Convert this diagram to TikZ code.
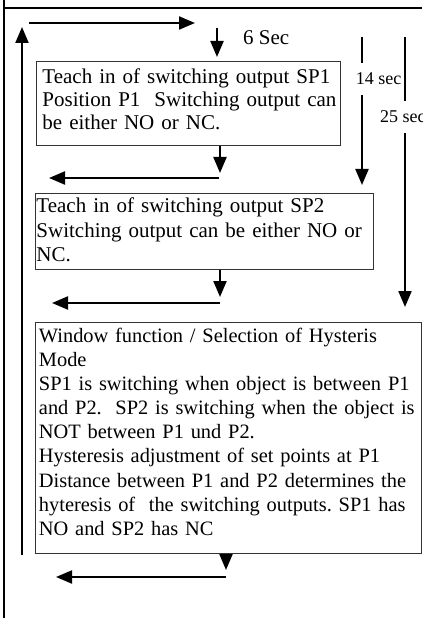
\documentclass[tikz,border=0pt]{standalone}
\usepackage{fontspec}
\setmainfont{Liberation Serif}
\usetikzlibrary{arrows.meta}
\newcommand\myfontA{\fontsize{21bp}{23bp}\selectfont\frenchspacing}
\newcommand\myfontB{\fontsize{21bp}{24.5bp}\selectfont\frenchspacing}
\newcommand\myfontC{\fontsize{20.4bp}{24.1bp}\selectfont\frenchspacing}
\newcommand\myfontS{\fontsize{18bp}{20bp}\selectfont}
\begin{document}
\begin{tikzpicture}[x=1bp,y=-1bp,
  arr/.style={line width=2.2bp,-{Triangle[length=16bp,width=13bp]}},
  frame/.style={line width=1.8bp},
  box/.style={draw=black!80,line width=0.9bp,anchor=north west,inner ysep=0pt,align=left},
  lab/.style={fill=white,inner xsep=1bp,inner ysep=0pt,minimum height=32bp,font=\myfontS}]
\useasboundingbox (0,0) rectangle (422,618);
\fill[white] (0,0) rectangle (422,618);
\clip (0,0) rectangle (422,618);
% frame
\coordinate (fl0) at (4,0);
\coordinate (fl1) at (4,618);
\coordinate (ft0) at (4,8);
\coordinate (ft1) at (422,8);
\draw[frame] (fl0) -- (fl1);
\draw[frame] (ft0) -- (ft1);
% boxes
\node[box,font=\myfontA,inner xsep=6bp,text width=292bp,text height=22bp,text depth=62bp] (b1) at (36,61)
 {\mbox{Teach in of switching output SP1}\\\mbox{Position P1~ Switching output can}\\\mbox{be either NO or NC.}};
\node[box,font=\myfontB,inner xsep=1bp,text width=336bp,text height=19.5bp,text depth=56.5bp] (b2) at (35,193)
 {\mbox{Teach in of switching output SP2}\\\mbox{Switching output can be either NO or}\\\mbox{NC.}};
\node[box,font=\myfontC,inner xsep=3.5bp,text width=379bp,text height=20bp,text depth=211bp] (b3) at (35,322)
 {\mbox{Window function / Selection of Hysteris}\\\mbox{Mode}\\\mbox{SP1 is switching when object is between P1}\\\mbox{and P2.~ SP2 is switching when the object is}\\\mbox{NOT between P1 und P2.}\\\mbox{Hysteresis adjustment of set points at P1}\\\mbox{Distance between P1 and P2 determines the}\\\mbox{hyteresis of~ the switching outputs. SP1 has}\\\mbox{NO and SP2 has NC}};
% top loop arrows
\coordinate (up0) at (22,555);
\coordinate (up1) at (22,27);
\draw[arr] (up0) -- (up1);
\coordinate (r0) at (29,23);
\coordinate (r1) at (195,23);
\draw[arr] (r0) -- (r1);
\coordinate (d0) at (217,28);
\coordinate (d1) at (217,57);
\draw[arr] (d0) -- (d1);
\node[anchor=base west,inner sep=0pt,font=\myfontA] (six) at (243,45) {6 Sec};
% arrows between boxes
\coordinate (a1) at (220,173);
\draw[arr] (b1.south -| a1) -- (a1);
\coordinate (l1a) at (219,178);
\coordinate (l1b) at (49,178);
\draw[arr] (l1a) -- (l1b);
\coordinate (a2) at (220,297);
\draw[arr] (b2.south -| a2) -- (a2);
\coordinate (l2a) at (220,303);
\coordinate (l2b) at (52,303);
\draw[arr] (l2a) -- (l2b);
\coordinate (a3) at (226,570);
\draw[arr] (b3.south -| a3) -- (a3);
\coordinate (l3a) at (226,577);
\coordinate (l3b) at (56,577);
\draw[arr] (l3a) -- (l3b);
% timing arrows
\coordinate (t14a) at (362,37);
\coordinate (t14b) at (362,185);
\draw[arr] (t14a) -- (t14b);
\coordinate (t25a) at (405,37);
\coordinate (t25b) at (405,307);
\draw[arr] (t25a) -- (t25b);
\node[lab] (l14) at (378.5,79) {14 sec};
\node[lab] (l25) at (402.75,117) {25 sec};
\end{tikzpicture}
\end{document}
